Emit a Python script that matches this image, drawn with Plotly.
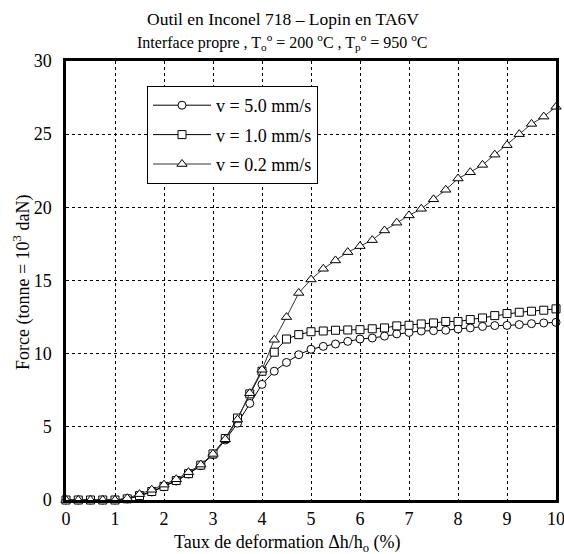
import plotly.graph_objects as go

# Deformation rate Δh/h0 (%), sampled every 0.25 %
strain = [0.0, 0.25, 0.5, 0.75, 1.0, 1.25, 1.5, 1.75, 2.0, 2.25, 2.5, 2.75,
          3.0, 3.25, 3.5, 3.75, 4.0, 4.25, 4.5, 4.75, 5.0, 5.25, 5.5, 5.75,
          6.0, 6.25, 6.5, 6.75, 7.0, 7.25, 7.5, 7.75, 8.0, 8.25, 8.5, 8.75,
          9.0, 9.25, 9.5, 9.75, 10.0]

# Forging force (tonne = 10^3 daN) for each ram speed
force_v50 = [0, 0, 0, 0, 0, 0.08, 0.28, 0.55, 0.9, 1.3, 1.78, 2.35,
             3.1, 4.1, 5.25, 6.6, 7.9, 8.8, 9.4, 9.93, 10.3, 10.5, 10.66, 10.84,
             11.0, 11.07, 11.2, 11.35, 11.45, 11.55, 11.57, 11.6, 11.69, 11.76, 11.86, 11.92,
             11.93, 11.99, 12.05, 12.1, 12.14]
force_v10 = [0, 0, 0, 0, 0, 0.08, 0.3, 0.58, 0.93, 1.33, 1.8, 2.38,
             3.15, 4.2, 5.6, 7.25, 8.8, 10.1, 11.0, 11.3, 11.5, 11.55, 11.6, 11.62,
             11.64, 11.7, 11.76, 11.9, 11.94, 12.03, 12.1, 12.2, 12.2, 12.33, 12.44, 12.6,
             12.74, 12.83, 12.9, 12.97, 13.06]
force_v02 = [0, 0, 0, 0, 0, 0.12, 0.4, 0.7, 1.05, 1.42, 1.9, 2.42,
             3.15, 4.15, 5.5, 7.3, 8.9, 10.95, 12.5, 14.15, 15.07, 15.8, 16.37, 16.94,
             17.35, 17.76, 18.42, 18.95, 19.45, 19.9, 20.55, 21.2, 21.97, 22.4, 22.9, 23.6,
             24.25, 25.0, 25.7, 26.2, 26.87]

series = [
    ("v = 5.0 mm/s", force_v50, "circle", "black"),
    ("v = 1.0 mm/s", force_v10, "square", "black"),
    ("v = 0.2 mm/s", force_v02, "triangle-up", "#333333"),
]

x_ticks = list(range(0, 11))
y_ticks = [0, 5, 10, 15, 20, 25, 30]

FONT = "Liberation Serif, Times New Roman, serif"

fig = go.Figure()
for i, (name, ys, sym, lc) in enumerate(series):
    fig.add_trace(go.Scatter(
        x=strain, y=ys, name=name, mode="lines+markers",
        legendgroup=f"g{i}",
        line=dict(color=lc, width=1),
        marker=dict(symbol=sym, size=8 if sym != "triangle-up" else 9,
                    color="white", line=dict(color="black", width=1)),
        cliponaxis=False,
    ))

axis_common = dict(
    showline=True, linecolor="black", linewidth=2.5, mirror=True,
    showgrid=True, gridcolor="black", gridwidth=1, griddash="dot",
    zeroline=False, ticks="", automargin=False, ticklabeloverflow="allow",
    tickfont=dict(family=FONT, size=18, color="black"),
)

fig.update_layout(
    width=564, height=554,
    margin=dict(l=66, r=8, t=61, b=54),
    paper_bgcolor="white", plot_bgcolor="white",
    font=dict(family=FONT, color="black"),
    showlegend=True,
    legend=dict(
        x=(147 - 66) / 490, y=(500 - 86) / 439, xanchor="left", yanchor="top",
        bordercolor="black", borderwidth=1, bgcolor="white",
        font=dict(family=FONT, size=18, color="black"),
        tracegroupgap=3, itemwidth=58,
    ),
    xaxis=dict(range=[0, 10], tickvals=x_ticks, ticklabelstandoff=1, **axis_common),
    yaxis=dict(range=[0, 30], tickvals=y_ticks, ticklabelstandoff=8, **axis_common),
    annotations=[
        dict(text="Outil en Inconel 718 – Lopin en TA6V", xref="paper", yref="paper",
             x=(283 - 66) / 490, y=1.0 + (61 - 19) / 439, xanchor="center", yanchor="middle",
             showarrow=False, font=dict(family=FONT, size=17.5)),
        dict(text="Interface propre , T<sub>o</sub><sup>o</sup> = 200 <sup>o</sup>C , "
                  "T<sub>p</sub><sup>o</sup> = 950 <sup>o</sup>C",
             xref="paper", yref="paper",
             x=(282 - 66) / 490, y=1.0 + (61 - 42) / 439, xanchor="center", yanchor="middle",
             showarrow=False, font=dict(family=FONT, size=16)),
        dict(text="Taux de deformation Δh/h<sub>o</sub> (%)", xref="paper", yref="paper",
             x=(287 - 66) / 490, y=-(543 - 500) / 439, xanchor="center", yanchor="middle",
             showarrow=False, font=dict(family=FONT, size=18)),
        dict(text="Force (tonne = 10<sup>3</sup> daN)", xref="paper", yref="paper",
             x=-(66 - 22) / 490, y=(500 - 283) / 439, xanchor="center", yanchor="middle",
             textangle=-90, showarrow=False, font=dict(family=FONT, size=18)),
    ],
)

fig.write_html("out.html")
